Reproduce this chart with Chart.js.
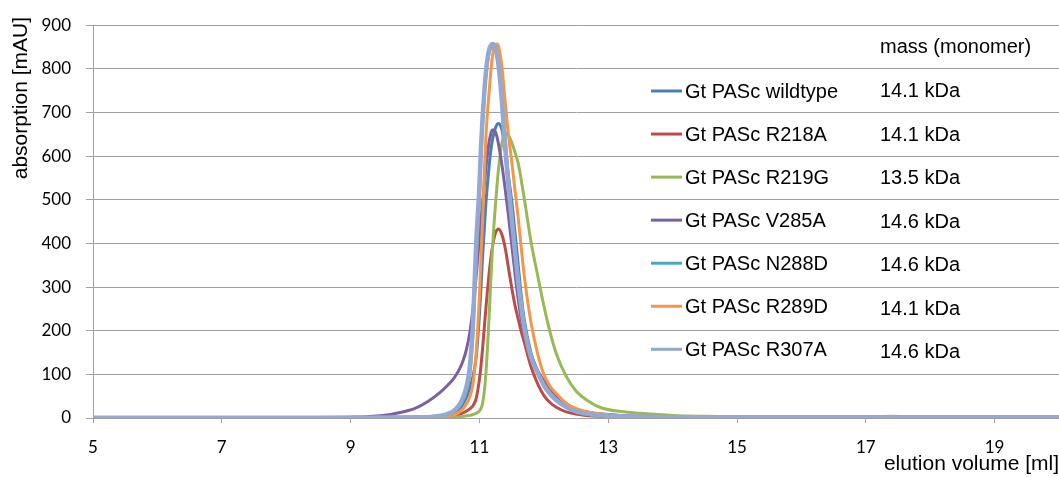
<!DOCTYPE html>
<html>
<head>
<meta charset="utf-8">
<script src="https://cdn.jsdelivr.net/npm/chart.js@4.4.1/dist/chart.umd.min.js"></script>
<style>
  html, body { margin: 0; padding: 0; background: #fff; }
  #wrap { width: 1059px; height: 477px; }
</style>
</head>
<body>
<div id="wrap"><canvas id="c" width="1059" height="477"></canvas></div>
<script>
// ---- data ----
const elutionVolume = [5, 6, 7, 8, 8.5, 9, 9.25, 9.5, 9.75, 10,
  10.2, 10.4, 10.5, 10.6, 10.7, 10.75, 10.8, 10.85, 10.9, 10.95,
  11.0, 11.025, 11.05, 11.075, 11.1, 11.125, 11.15, 11.175, 11.2, 11.225,
  11.25, 11.275, 11.3, 11.35, 11.4, 11.45, 11.5, 11.55, 11.6, 11.65,
  11.7, 11.8, 11.9, 12.0, 12.1, 12.2, 12.35, 12.5, 12.7, 12.9,
  13.2, 13.5, 14, 14.5, 15, 15.5, 16, 16.5, 17, 17.4,
  17.8, 18.5, 19, 19.5, 20];

const wildtype = [0.5,0.5,0.5,0.6,0.7,0.8,1,1.2,1.5,2,
  2.5,4,5,8,22,33,48,68,95,140,
  235,300,370,430,490,535,575,610,635,652,
  665,673,675,660,615,555,500,430,355,280,
  222,150,108,78,57,42,27,17,10,7,
  4,3,2.5,3,3,2.5,2,1.5,1.5,1.5,
  1.2,1,1,1,1];
const r218a = [0,0,0,0,0,0,0.2,0.3,0.5,0.8,
  1.2,2,3,5,9,12,16,21,28,45,
  88,120,160,205,250,292,330,362,390,410,
  425,431,433,420,390,345,300,260,228,198,
  172,118,80,52,35,24,14,9,5,3.5,
  2,1,0.8,0.7,0.6,0.5,0.5,0.5,0.5,0.5,
  0.5,0.5,0.5,0.5,0.5];
const r219g = [0,0,0,0,0,0,0,0.2,0.4,0.5,
  0.6,0.8,1,1.5,3,4,5,6,8,11,
  16,22,34,60,100,160,230,310,380,440,
  490,535,575,630,653,648,632,610,585,545,
  500,405,330,258,195,145,95,62,38,23,
  15,11,6,4,3,2.5,2,2,3,4,
  2.5,1,1,1,1];
const v285a = [0.5,0.5,0.7,1,1.2,2,3,5.5,12,22,
  38,60,74,90,115,133,158,195,250,325,
  410,455,495,535,572,605,632,650,660,660,
  655,643,625,580,525,465,400,335,275,225,
  195,145,110,85,65,50,33,20,13,9,
  6,4,3,3,2.5,2,2,1.5,1.5,1.5,
  1.2,1,1,1,1];
const n288d = [0,0,0.2,0.3,0.4,0.5,0.6,0.8,1,1.5,
  2.5,4,7,12,27,40,60,95,185,350,
  490,590,665,725,775,810,833,846,850,848,
  840,825,800,735,650,560,475,400,330,268,
  212,145,106,76,56,41,26,16,10,7,
  4,3,2,2,2,1.5,1.5,1.5,1.5,1.5,
  1,1,1,1,1];
const r289d = [0,0,0,0,0,0.2,0.3,0.4,0.6,0.8,
  1.5,3,4,6,15,22,32,48,78,150,
  280,370,455,560,640,700,745,790,825,848,
  856,857,850,805,725,650,590,525,462,390,
  322,220,150,100,72,55,33,22,13,9,
  5,4,2,1.5,1,1,1,1,1,1,
  1,1,1,1,1];
const r307a = [0.5,0.5,0.5,0.5,0.5,0.7,0.8,1,1.2,1.5,
  2,5,9,16,33,48,72,115,215,400,
  530,620,690,745,790,822,843,853,857,856,
  848,830,805,725,620,535,460,385,315,255,
  205,140,105,75,55,40,25,15,9,6,
  4,3,2,1.5,1.5,1.5,1.5,1.5,1.5,1.5,
  1.5,1.5,2,2,1.5];

const seriesNames = ['Gt PASc wildtype', 'Gt PASc R218A', 'Gt PASc R219G', 'Gt PASc V285A', 'Gt PASc N288D', 'Gt PASc R289D', 'Gt PASc R307A'];
const masses = ['14.1 kDa', '14.1 kDa', '13.5 kDa', '14.6 kDa', '14.6 kDa', '14.1 kDa', '14.6 kDa'];
const massHeader = 'mass (monomer)';
const xTickValues = [5, 7, 9, 11, 13, 15, 17, 19];
const yTickValues = [0, 100, 200, 300, 400, 500, 600, 700, 800, 900];
const xTitle = 'elution volume [ml]';
const yTitle = 'absorption [mAU]';

// ---- styles ----
const palette = ['#4a7ebb', '#be4b48', '#98b954', '#7d60a0', '#46aac5', '#f79646', '#92a9d4'];
const widths = [3, 3, 3, 3, 2.5, 3, 4.5];
const gridColor = '#a0a0a0';
const tickFont = { family: 'Lato', size: 17 };
const textFont = 'Liberation Sans';

const seriesValues = [wildtype, r218a, r219g, v285a, n288d, r289d, r307a];

const datasets = seriesValues.map((vals, i) => ({
  label: seriesNames[i],
  data: vals.map((v, k) => ({ x: elutionVolume[k], y: v })),
  borderColor: palette[i],
  backgroundColor: palette[i],
  borderWidth: widths[i],
  pointRadius: 0,
  fill: false,
  cubicInterpolationMode: 'monotone',
  order: seriesValues.length - 1 - i
}));

const massLegend = {
  id: 'massLegend',
  afterDraw(chart) {
    const ctx = chart.ctx;
    ctx.save();
    ctx.font = '20px "' + textFont + '"';
    ctx.fillStyle = '#000';
    ctx.textBaseline = 'middle';
    ctx.textAlign = 'left';
    ctx.fillText(massHeader, 880, 47);
    seriesNames.forEach((name, i) => {
      const y = 91 + i * 43.05;
      ctx.strokeStyle = palette[i];
      ctx.lineWidth = 3;
      ctx.beginPath();
      ctx.moveTo(651, y);
      ctx.lineTo(682, y);
      ctx.stroke();
      ctx.fillText(name, 685, y + 1);
      ctx.fillText(masses[i], 880, 91.7 + i * 43.5);
    });
    // y-axis title, aligned to top like the reference
    ctx.translate(21, 17);
    ctx.rotate(-Math.PI / 2);
    ctx.font = '21px "' + textFont + '"';
    ctx.textAlign = 'right';
    ctx.fillText(yTitle, 0, 0);
    ctx.restore();
  }
};

new Chart(document.getElementById('c'), {
  type: 'line',
  data: { datasets },
  plugins: [massLegend],
  options: {
    responsive: false,
    animation: false,
    events: [],
    layout: { padding: { top: 22, right: 0, left: 0, bottom: 0 } },
    plugins: { legend: { display: false }, tooltip: { enabled: false } },
    scales: {
      x: {
        type: 'linear',
        min: 5, max: 20,
        afterBuildTicks: s => { s.ticks = xTickValues.map(v => ({ value: v })); },
        afterFit: s => { s.height = 59; },
        ticks: { font: tickFont, color: '#000', padding: 14, maxRotation: 0, autoSkip: false },
        grid: { drawOnChartArea: false, drawTicks: true, tickLength: 5, color: gridColor },
        border: { display: true, color: gridColor, width: 1 },
        title: { display: true, text: xTitle, align: 'end', color: '#000',
                 font: { family: textFont, size: 21 }, padding: { top: 0, bottom: 0 } }
      },
      y: {
        type: 'linear',
        min: 0, max: 900,
        afterBuildTicks: s => { s.ticks = yTickValues.map(v => ({ value: v })); },
        afterFit: s => { s.width = 93; },
        ticks: { font: tickFont, color: '#000', padding: 15 },
        grid: { drawOnChartArea: true, drawTicks: true, tickLength: 7, color: gridColor },
        border: { display: true, color: gridColor, width: 1 },
        title: { display: false }
      }
    }
  }
});
</script>
</body>
</html>
